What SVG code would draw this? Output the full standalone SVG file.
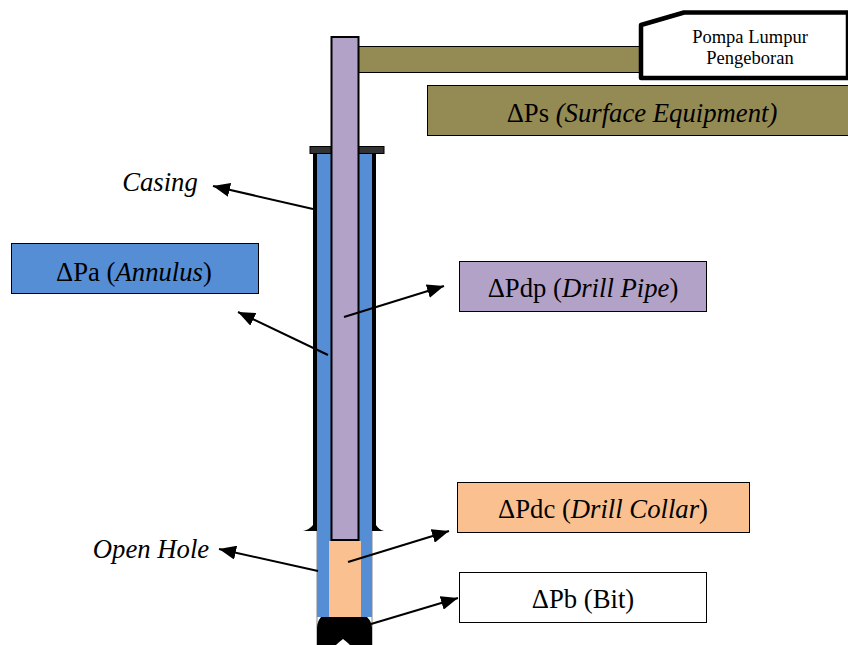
<svg xmlns="http://www.w3.org/2000/svg" width="848" height="645" viewBox="0 0 848 645">
<style>
text{font-family:"Liberation Serif","Times New Roman",serif;fill:#000}
.lbl{font-size:26.7px;text-anchor:middle}
.side{font-size:26.7px;font-style:italic;text-anchor:middle}
.pump{font-size:18.500px;text-anchor:middle}
.box{stroke:#000;stroke-width:1}
.conn{stroke:#000;stroke-width:2;fill:none;marker-end:url(#ah)}
</style>
<defs>
<marker id="ah" markerUnits="userSpaceOnUse" markerWidth="18" markerHeight="14" refX="17" refY="7" orient="auto"><path d="M0 0L17 7L0 14Z" fill="#000"/></marker>
</defs>
<g id="well">
<rect x="317" y="153" width="55" height="464" fill="#558ed5"/>
<rect x="313" y="153" width="4" height="373" fill="#000"/>
<rect x="372" y="153" width="4" height="373" fill="#000"/>
<path d="M303 531Q309 530 313 525L317 525V531Z M384 531Q379 530 376 525L372 525V531Z" fill="#000"/>
<rect x="316.500" y="531" width="1" height="114" fill="#888"/>
<rect x="371.500" y="531" width="1" height="114" fill="#888"/>
<rect x="310" y="146.500" width="74" height="7" fill="#333" stroke="#000"/>
<rect x="329" y="541" width="32" height="76" fill="#fac090"/>
<path d="M317 645V628Q317 622 321 617H367Q372 622 372 628V645H350Q347 642 343 639Q339 642 336 645Z" fill="#000"/>
</g>
<g id="surface-line">
<rect x="358" y="46.500" width="284" height="26" fill="#948a54" stroke="#000"/>
</g>
<g id="drill-pipe">
<rect x="331.500" y="37" width="27" height="503" fill="#b3a2c7" stroke="#000" stroke-width="2"/>
</g>
<g id="pump">
<path d="M641 25L684 12.500H848V78H641Z" fill="#fff" stroke="#000" stroke-width="4.500" stroke-linejoin="round"/>
<text class="pump" x="750" y="43">Pompa Lumpur</text>
<text class="pump" x="750" y="64">Pengeboran</text>
</g>
<g id="ps">
<rect class="box" x="427.500" y="85.500" width="421" height="50" fill="#948a54"/>
<text class="lbl" x="642" y="122">ΔPs <tspan font-style="italic">(Surface Equipment)</tspan></text>
</g>
<g id="pa">
<rect class="box" x="11.500" y="243.500" width="247" height="50" fill="#558ed5"/>
<text class="lbl" x="134" y="281">ΔPa (<tspan font-style="italic">Annulus</tspan>)</text>
</g>
<g id="pdp">
<rect class="box" x="459.500" y="261.500" width="247" height="50" fill="#b3a2c7"/>
<text class="lbl" x="583" y="297">ΔPdp (<tspan font-style="italic">Drill Pipe</tspan>)</text>
</g>
<g id="pdc">
<rect class="box" x="457.500" y="482.500" width="292" height="50" fill="#fac090"/>
<text class="lbl" x="603" y="518">ΔPdc (<tspan font-style="italic">Drill Collar</tspan>)</text>
</g>
<g id="pb">
<rect class="box" x="459.500" y="572.500" width="247" height="50" fill="#fff"/>
<text class="lbl" x="583" y="608">ΔPb (Bit)</text>
</g>
<g id="casing"><text class="side" x="160" y="191">Casing</text></g>
<g id="open-hole"><text class="side" x="151" y="558">Open Hole</text></g>
<g id="connectors">
<path class="conn" d="M313 209L213 186"/>
<path class="conn" d="M328 355L238 312"/>
<path class="conn" d="M344 317L444 286"/>
<path class="conn" d="M348 562L449 531"/>
<path class="conn" d="M371 624L458 598"/>
<path class="conn" d="M318 571L219 549"/>
</g>
</svg>
